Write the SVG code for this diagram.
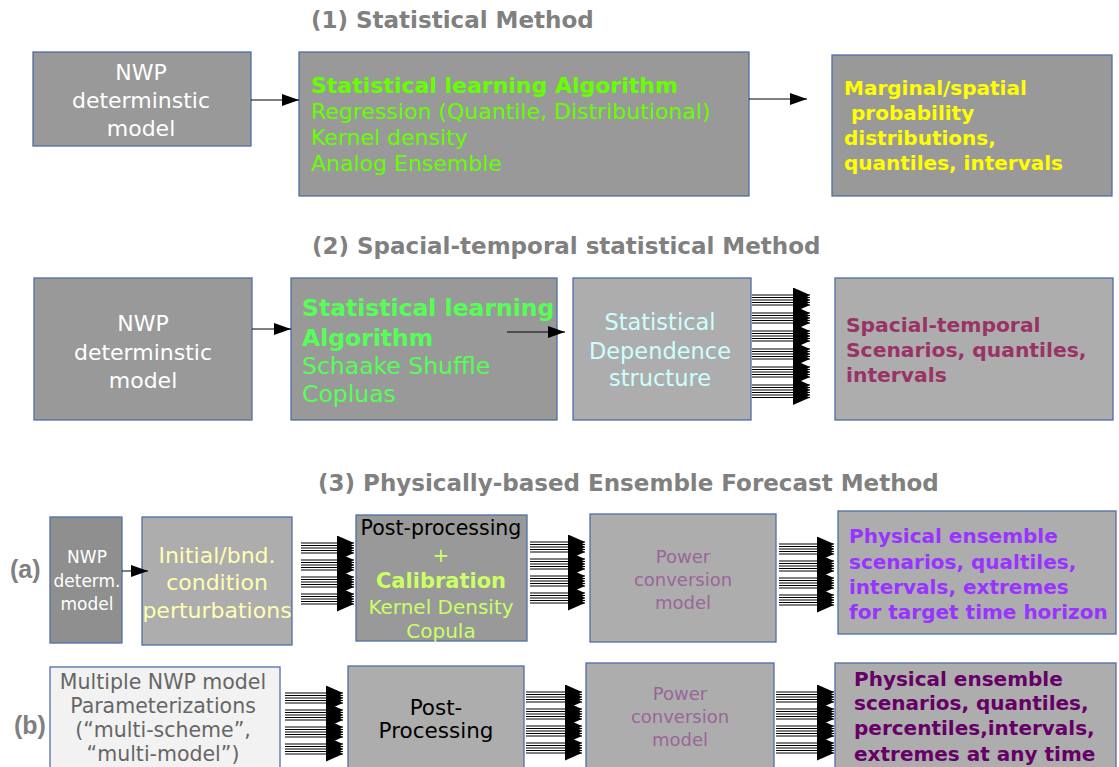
<svg xmlns="http://www.w3.org/2000/svg" width="1119" height="767" viewBox="0 0 1119 767">
<defs>
<marker id="ah" viewBox="0 0 17 12" markerWidth="17" markerHeight="12" refX="17" refY="6" orient="auto" markerUnits="userSpaceOnUse">
<path d="M0,0 L17,6 L0,12 z" fill="#000"/>
</marker>
<marker id="bh" viewBox="0 0 17 15" markerWidth="17" markerHeight="15" refX="17" refY="7.5" orient="auto" markerUnits="userSpaceOnUse">
<path d="M0,0 L17,7.5 L0,15 z" fill="#000"/>
</marker>
<style>
.dk{fill:#999999;stroke:#4f6fa8;stroke-width:1.3}
.lt{fill:#adadad;stroke:#4f6fa8;stroke-width:1.3}
.nw{fill:#8f8f8f;stroke:#4f6fa8;stroke-width:1.3}
.wh{fill:#f2f2f2;stroke:#4f6fa8;stroke-width:1.3}
text{font-family:"DejaVu Sans","Verdana",sans-serif}
.title{font-size:23px;font-weight:bold;fill:#808080}
.lab{font-family:"Liberation Sans",Arial,sans-serif;font-size:25px;font-weight:bold;fill:#808080}
.w22{font-size:22px;fill:#ffffff;text-anchor:middle}
.w17{font-size:17px;fill:#ffffff;text-anchor:middle}
.g1{font-size:22px;fill:#66ff00}
.g2{font-size:23.5px;fill:#55ff55}
.yb{font-size:20px;font-weight:bold;fill:#ffff00}
.cy{font-size:22.5px;fill:#ccffff;text-anchor:middle}
.mr{font-size:20.3px;font-weight:bold;fill:#993366}
.py{font-size:22px;fill:#ffffb3;text-anchor:middle}
.lg{font-size:20px;fill:#ccff66;text-anchor:middle}
.lgb{font-size:21px;font-weight:bold;fill:#ccff66;text-anchor:middle}
.mv{font-size:18px;fill:#996699;text-anchor:middle}
.pu{font-size:20px;font-weight:bold;fill:#9933ff}
.dp{font-size:20px;font-weight:bold;fill:#660066}
.gy{font-size:20.5px;fill:#666666;text-anchor:middle}
.bk20{font-size:20.5px;fill:#000000;text-anchor:middle}
.bk21{font-size:21.5px;fill:#000000;text-anchor:middle}
.c line{stroke:#000;stroke-width:1}
.s line{marker-end:url(#ah)}
.m line{marker-end:url(#bh)}
</style>
</defs>
<rect width="1119" height="767" fill="#ffffff"/>

<text class="title" x="311" y="28">(1) Statistical Method</text>
<text class="title" x="312" y="254">(2) Spacial-temporal statistical Method</text>
<text class="title" x="318" y="491">(3) Physically-based Ensemble Forecast Method</text>
<text class="lab" x="10" y="578">(a)</text>
<text class="lab" x="14" y="734">(b)</text>

<g id="n1-nwp">
<rect class="dk" x="33" y="52" width="218" height="94"/>
<text class="w22" x="141" y="80">NWP</text>
<text class="w22" x="141" y="108">determinstic</text>
<text class="w22" x="141" y="136">model</text>
</g>
<g id="n1-stat">
<rect class="dk" x="299" y="52" width="450" height="144"/>
<text class="g1" x="311" y="93" font-weight="bold">Statistical learning Algorithm</text>
<text class="g1" x="311" y="119">Regression (Quantile, Distributional)</text>
<text class="g1" x="311" y="145">Kernel density</text>
<text class="g1" x="311" y="171">Analog Ensemble</text>
</g>
<g id="n1-out">
<rect class="dk" x="832" y="55" width="280" height="141"/>
<text class="yb" x="844" y="95">Marginal/spatial</text>
<text class="yb" x="851" y="120">probability</text>
<text class="yb" x="844" y="145">distributions,</text>
<text class="yb" x="844" y="170">quantiles, intervals</text>
</g>

<g id="n2-nwp">
<rect class="dk" x="34" y="278" width="218" height="142"/>
<text class="w22" x="143" y="331">NWP</text>
<text class="w22" x="143" y="360">determinstic</text>
<text class="w22" x="143" y="388">model</text>
</g>
<g id="n2-stat">
<rect class="dk" x="291" y="278" width="266" height="142"/>
<text class="g2" x="302" y="316" font-weight="bold">Statistical learning</text>
<text class="g2" x="302" y="346" font-weight="bold">Algorithm</text>
<text class="g2" x="302" y="374">Schaake Shuffle</text>
<text class="g2" x="302" y="402">Copluas</text>
</g>
<g id="n2-dep">
<rect class="lt" x="573" y="278" width="178" height="142"/>
<text class="cy" x="660" y="330">Statistical</text>
<text class="cy" x="660" y="359">Dependence</text>
<text class="cy" x="660" y="386">structure</text>
</g>
<g id="n2-out">
<rect class="lt" x="835" y="278" width="278" height="142"/>
<text class="mr" x="846" y="332">Spacial-temporal</text>
<text class="mr" x="846" y="357">Scenarios, quantiles,</text>
<text class="mr" x="846" y="382">intervals</text>
</g>

<g id="n3a-nwp">
<rect class="nw" x="50" y="517" width="72" height="126"/>
<text class="w17" x="87" y="563">NWP</text>
<text class="w17" x="87" y="587">determ.</text>
<text class="w17" x="87" y="610">model</text>
</g>
<g id="n3a-init">
<rect class="lt" x="142" y="517" width="150" height="128"/>
<text class="py" x="217" y="563">Initial/bnd.</text>
<text class="py" x="217" y="590">condition</text>
<text class="py" x="217" y="618">perturbations</text>
</g>
<g id="n3a-post">
<rect class="dk" x="356" y="515" width="171" height="126"/>
<text class="bk20" x="441" y="535">Post-processing</text>
<text class="lg" x="441" y="562">+</text>
<text class="lgb" x="441" y="588">Calibration</text>
<text class="lg" x="441" y="614">Kernel Density</text>
<text class="lg" x="441" y="638">Copula</text>
</g>
<g id="n3a-power">
<rect class="lt" x="590" y="514" width="186" height="128"/>
<text class="mv" x="683" y="563">Power</text>
<text class="mv" x="683" y="586">conversion</text>
<text class="mv" x="683" y="609">model</text>
</g>
<g id="n3a-out">
<rect class="lt" x="838" y="511" width="278" height="123"/>
<text class="pu" x="849" y="543">Physical ensemble</text>
<text class="pu" x="849" y="569">scenarios, qualtiles,</text>
<text class="pu" x="849" y="594">intervals, extremes</text>
<text class="pu" x="849" y="619">for target time horizon</text>
</g>

<g id="n3b-multi">
<rect class="wh" x="50" y="667" width="230" height="110"/>
<text class="gy" x="163" y="689">Multiple NWP model</text>
<text class="gy" x="163" y="713">Parameterizations</text>
<text class="gy" x="163" y="737">(“multi-scheme”,</text>
<text class="gy" x="163" y="761">“multi-model”)</text>
</g>
<g id="n3b-post">
<rect class="lt" x="348" y="666" width="176" height="111"/>
<text class="bk21" x="436" y="715">Post-</text>
<text class="bk21" x="436" y="738">Processing</text>
</g>
<g id="n3b-power">
<rect class="lt" x="586" y="663" width="188" height="114"/>
<text class="mv" x="680" y="700">Power</text>
<text class="mv" x="680" y="723">conversion</text>
<text class="mv" x="680" y="746">model</text>
</g>
<g id="n3b-out">
<rect class="lt" x="835" y="663" width="281" height="114"/>
<text class="dp" x="854" y="686">Physical ensemble</text>
<text class="dp" x="854" y="710">scenarios, quantiles,</text>
<text class="dp" x="854" y="735">percentiles,intervals,</text>
<text class="dp" x="854" y="761">extremes at any time</text>
</g>

<g id="connectors" class="c">
<g class="s">
<line x1="251" y1="100" x2="299" y2="100"/>
<line x1="749" y1="99" x2="807" y2="99"/>
<line x1="252" y1="329" x2="291" y2="329"/>
<line x1="507" y1="332" x2="565" y2="332"/>
<line x1="122" y1="571" x2="148" y2="571"/>
</g>
<g class="m" id="bundle-2">
<line x1="752" y1="295" x2="810" y2="295"/><line x1="752" y1="297.5" x2="810" y2="297.5"/><line x1="752" y1="300" x2="810" y2="300"/><line x1="752" y1="302.5" x2="810" y2="302.5"/><line x1="752" y1="305" x2="810" y2="305"/>
<line x1="752" y1="313" x2="810" y2="313"/><line x1="752" y1="315.5" x2="810" y2="315.5"/><line x1="752" y1="318" x2="810" y2="318"/><line x1="752" y1="320.5" x2="810" y2="320.5"/><line x1="752" y1="323" x2="810" y2="323"/>
<line x1="752" y1="331" x2="810" y2="331"/><line x1="752" y1="333.5" x2="810" y2="333.5"/><line x1="752" y1="336" x2="810" y2="336"/><line x1="752" y1="338.5" x2="810" y2="338.5"/><line x1="752" y1="341" x2="810" y2="341"/>
<line x1="752" y1="349" x2="810" y2="349"/><line x1="752" y1="351.5" x2="810" y2="351.5"/><line x1="752" y1="354" x2="810" y2="354"/><line x1="752" y1="356.5" x2="810" y2="356.5"/><line x1="752" y1="359" x2="810" y2="359"/>
<line x1="752" y1="367" x2="810" y2="367"/><line x1="752" y1="369.5" x2="810" y2="369.5"/><line x1="752" y1="372" x2="810" y2="372"/><line x1="752" y1="374.5" x2="810" y2="374.5"/><line x1="752" y1="377" x2="810" y2="377"/>
<line x1="752" y1="385" x2="810" y2="385"/><line x1="752" y1="387.5" x2="810" y2="387.5"/><line x1="752" y1="390" x2="810" y2="390"/><line x1="752" y1="392.5" x2="810" y2="392.5"/><line x1="752" y1="395" x2="810" y2="395"/><line x1="752" y1="397.5" x2="810" y2="397.5"/>
</g>
<g class="m" id="bundle-3a-1">
<line x1="301" y1="543" x2="354" y2="543"/><line x1="301" y1="545.5" x2="354" y2="545.5"/><line x1="301" y1="548" x2="354" y2="548"/><line x1="301" y1="550.5" x2="354" y2="550.5"/><line x1="301" y1="553" x2="354" y2="553"/>
<line x1="301" y1="560" x2="354" y2="560"/><line x1="301" y1="562.5" x2="354" y2="562.5"/><line x1="301" y1="565" x2="354" y2="565"/><line x1="301" y1="567.5" x2="354" y2="567.5"/><line x1="301" y1="570" x2="354" y2="570"/>
<line x1="301" y1="577" x2="354" y2="577"/><line x1="301" y1="579.5" x2="354" y2="579.5"/><line x1="301" y1="582" x2="354" y2="582"/><line x1="301" y1="584.5" x2="354" y2="584.5"/><line x1="301" y1="587" x2="354" y2="587"/>
<line x1="301" y1="594" x2="354" y2="594"/><line x1="301" y1="596.5" x2="354" y2="596.5"/><line x1="301" y1="599" x2="354" y2="599"/><line x1="301" y1="601.5" x2="354" y2="601.5"/><line x1="301" y1="604" x2="354" y2="604"/>
</g>
<g class="m" id="bundle-3a-2">
<line x1="530" y1="542" x2="585" y2="542"/><line x1="530" y1="544.5" x2="585" y2="544.5"/><line x1="530" y1="547" x2="585" y2="547"/><line x1="530" y1="549.5" x2="585" y2="549.5"/><line x1="530" y1="552" x2="585" y2="552"/>
<line x1="530" y1="559" x2="585" y2="559"/><line x1="530" y1="561.5" x2="585" y2="561.5"/><line x1="530" y1="564" x2="585" y2="564"/><line x1="530" y1="566.5" x2="585" y2="566.5"/><line x1="530" y1="569" x2="585" y2="569"/>
<line x1="530" y1="576" x2="585" y2="576"/><line x1="530" y1="578.5" x2="585" y2="578.5"/><line x1="530" y1="581" x2="585" y2="581"/><line x1="530" y1="583.5" x2="585" y2="583.5"/><line x1="530" y1="586" x2="585" y2="586"/>
<line x1="530" y1="593" x2="585" y2="593"/><line x1="530" y1="595.5" x2="585" y2="595.5"/><line x1="530" y1="598" x2="585" y2="598"/><line x1="530" y1="600.5" x2="585" y2="600.5"/><line x1="530" y1="603" x2="585" y2="603"/>
</g>
<g class="m" id="bundle-3a-3">
<line x1="779" y1="544" x2="834" y2="544"/><line x1="779" y1="546.5" x2="834" y2="546.5"/><line x1="779" y1="549" x2="834" y2="549"/><line x1="779" y1="551.5" x2="834" y2="551.5"/><line x1="779" y1="554" x2="834" y2="554"/>
<line x1="779" y1="561" x2="834" y2="561"/><line x1="779" y1="563.5" x2="834" y2="563.5"/><line x1="779" y1="566" x2="834" y2="566"/><line x1="779" y1="568.5" x2="834" y2="568.5"/><line x1="779" y1="571" x2="834" y2="571"/>
<line x1="779" y1="578" x2="834" y2="578"/><line x1="779" y1="580.5" x2="834" y2="580.5"/><line x1="779" y1="583" x2="834" y2="583"/><line x1="779" y1="585.5" x2="834" y2="585.5"/><line x1="779" y1="588" x2="834" y2="588"/>
<line x1="779" y1="595" x2="834" y2="595"/><line x1="779" y1="597.5" x2="834" y2="597.5"/><line x1="779" y1="600" x2="834" y2="600"/><line x1="779" y1="602.5" x2="834" y2="602.5"/><line x1="779" y1="605" x2="834" y2="605"/>
</g>
<g class="m" id="bundle-3b-1">
<line x1="285" y1="693" x2="343" y2="693"/><line x1="285" y1="695.5" x2="343" y2="695.5"/><line x1="285" y1="698" x2="343" y2="698"/><line x1="285" y1="700.5" x2="343" y2="700.5"/><line x1="285" y1="703" x2="343" y2="703"/>
<line x1="285" y1="710" x2="343" y2="710"/><line x1="285" y1="712.5" x2="343" y2="712.5"/><line x1="285" y1="715" x2="343" y2="715"/><line x1="285" y1="717.5" x2="343" y2="717.5"/><line x1="285" y1="720" x2="343" y2="720"/>
<line x1="285" y1="727" x2="343" y2="727"/><line x1="285" y1="729.5" x2="343" y2="729.5"/><line x1="285" y1="732" x2="343" y2="732"/><line x1="285" y1="734.5" x2="343" y2="734.5"/><line x1="285" y1="737" x2="343" y2="737"/>
<line x1="285" y1="744" x2="343" y2="744"/><line x1="285" y1="746.5" x2="343" y2="746.5"/><line x1="285" y1="749" x2="343" y2="749"/><line x1="285" y1="751.5" x2="343" y2="751.5"/><line x1="285" y1="754" x2="343" y2="754"/>
</g>
<g class="m" id="bundle-3b-2">
<line x1="526" y1="692" x2="582" y2="692"/><line x1="526" y1="694.5" x2="582" y2="694.5"/><line x1="526" y1="697" x2="582" y2="697"/><line x1="526" y1="699.5" x2="582" y2="699.5"/><line x1="526" y1="702" x2="582" y2="702"/>
<line x1="526" y1="709" x2="582" y2="709"/><line x1="526" y1="711.5" x2="582" y2="711.5"/><line x1="526" y1="714" x2="582" y2="714"/><line x1="526" y1="716.5" x2="582" y2="716.5"/><line x1="526" y1="719" x2="582" y2="719"/>
<line x1="526" y1="726" x2="582" y2="726"/><line x1="526" y1="728.5" x2="582" y2="728.5"/><line x1="526" y1="731" x2="582" y2="731"/><line x1="526" y1="733.5" x2="582" y2="733.5"/><line x1="526" y1="736" x2="582" y2="736"/>
<line x1="526" y1="743" x2="582" y2="743"/><line x1="526" y1="745.5" x2="582" y2="745.5"/><line x1="526" y1="748" x2="582" y2="748"/><line x1="526" y1="750.5" x2="582" y2="750.5"/><line x1="526" y1="753" x2="582" y2="753"/>
</g>
<g class="m" id="bundle-3b-3">
<line x1="776" y1="692" x2="834" y2="692"/><line x1="776" y1="694.5" x2="834" y2="694.5"/><line x1="776" y1="697" x2="834" y2="697"/><line x1="776" y1="699.5" x2="834" y2="699.5"/><line x1="776" y1="702" x2="834" y2="702"/>
<line x1="776" y1="709" x2="834" y2="709"/><line x1="776" y1="711.5" x2="834" y2="711.5"/><line x1="776" y1="714" x2="834" y2="714"/><line x1="776" y1="716.5" x2="834" y2="716.5"/><line x1="776" y1="719" x2="834" y2="719"/>
<line x1="776" y1="726" x2="834" y2="726"/><line x1="776" y1="728.5" x2="834" y2="728.5"/><line x1="776" y1="731" x2="834" y2="731"/><line x1="776" y1="733.5" x2="834" y2="733.5"/><line x1="776" y1="736" x2="834" y2="736"/>
<line x1="776" y1="743" x2="834" y2="743"/><line x1="776" y1="745.5" x2="834" y2="745.5"/><line x1="776" y1="748" x2="834" y2="748"/><line x1="776" y1="750.5" x2="834" y2="750.5"/><line x1="776" y1="753" x2="834" y2="753"/>
</g>
</g>
</svg>
